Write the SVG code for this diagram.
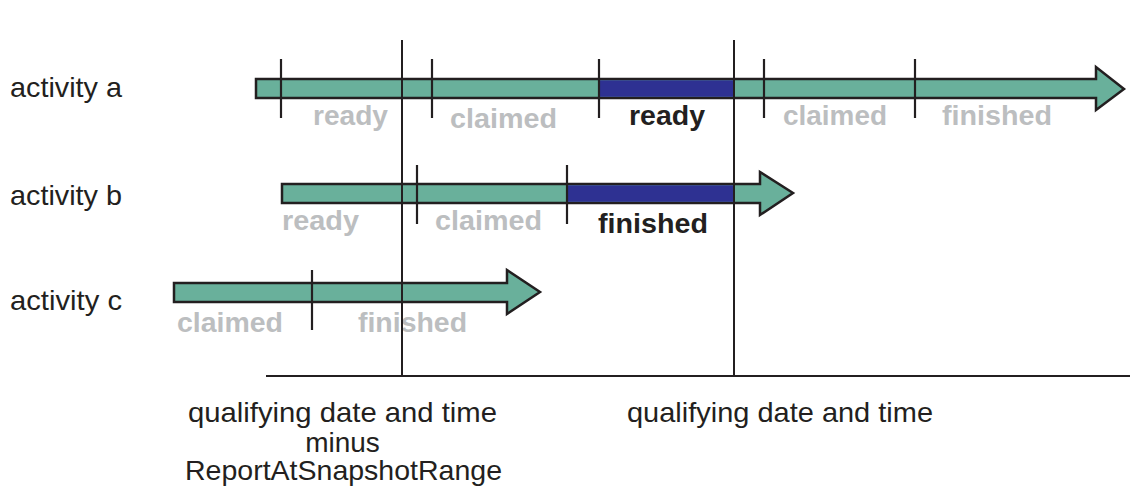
<svg xmlns="http://www.w3.org/2000/svg" width="1130" height="487" viewBox="0 0 1130 487">
<style>
.bar{fill:#69b09b;stroke:#231f20;stroke-width:2.5;stroke-linejoin:miter}
.blue{fill:#2e3192}
.tick{stroke:#231f20;stroke-width:2.2}
.axis{stroke:#231f20;stroke-width:2}
.lbl{font-family:"Liberation Sans",Arial,sans-serif;font-size:28px;fill:#231f20}
.st{font-family:"Liberation Sans",Arial,sans-serif;font-size:28px;font-weight:bold;fill:#bcbec0}
.sb{font-family:"Liberation Sans",Arial,sans-serif;font-size:28px;font-weight:bold;fill:#231f20}
</style>
<rect width="1130" height="487" fill="#fff"/>
<g id="activity-a">
  <path class="bar" d="M256,79 H1096 V67 L1124,89 L1096,110 V98 H256 Z"/>
  <rect class="blue" x="599" y="80.3" width="135" height="16.5"/>
  <line class="tick" x1="281" y1="59" x2="281" y2="118"/>
  <line class="tick" x1="432" y1="59" x2="432" y2="118"/>
  <line class="tick" x1="599" y1="59" x2="599" y2="118"/>
  <line class="tick" x1="764" y1="59" x2="764" y2="118"/>
  <line class="tick" x1="915" y1="59" x2="915" y2="118"/>
  <text class="lbl" x="10" y="97" textLength="112" lengthAdjust="spacingAndGlyphs">activity a</text>
  <text class="st" x="313" y="125" textLength="75" lengthAdjust="spacingAndGlyphs">ready</text>
  <text class="st" x="450" y="128" textLength="107" lengthAdjust="spacingAndGlyphs">claimed</text>
  <text class="sb" x="629" y="125" textLength="76" lengthAdjust="spacingAndGlyphs">ready</text>
  <text class="st" x="783" y="125" textLength="104" lengthAdjust="spacingAndGlyphs">claimed</text>
  <text class="st" x="942" y="125" textLength="110" lengthAdjust="spacingAndGlyphs">finished</text>
</g>
<g id="activity-b">
  <path class="bar" d="M282,184 H760 V172 L793,193 L760,215 V203 H282 Z"/>
  <rect class="blue" x="567" y="185.3" width="168" height="16.5"/>
  <line class="tick" x1="417" y1="165" x2="417" y2="224"/>
  <line class="tick" x1="567" y1="165" x2="567" y2="224"/>
  <text class="lbl" x="10" y="205" textLength="112" lengthAdjust="spacingAndGlyphs">activity b</text>
  <text class="st" x="282" y="230" textLength="77" lengthAdjust="spacingAndGlyphs">ready</text>
  <text class="st" x="435" y="230" textLength="107" lengthAdjust="spacingAndGlyphs">claimed</text>
  <text class="sb" x="598" y="233" textLength="110" lengthAdjust="spacingAndGlyphs">finished</text>
</g>
<g id="activity-c">
  <path class="bar" d="M174,283 H507 V270 L540,292 L507,314 V302 H174 Z"/>
  <line class="tick" x1="312" y1="270" x2="312" y2="330"/>
  <text class="lbl" x="10" y="310" textLength="112" lengthAdjust="spacingAndGlyphs">activity c</text>
  <text class="st" x="177" y="332" textLength="106" lengthAdjust="spacingAndGlyphs">claimed</text>
  <text class="st" x="358" y="332" textLength="109" lengthAdjust="spacingAndGlyphs">finished</text>
</g>
<g id="connectors">
  <line class="axis" x1="402" y1="40" x2="402" y2="377"/>
  <line class="axis" x1="734" y1="40" x2="734" y2="377"/>
  <line class="axis" x1="266" y1="376" x2="1130" y2="376"/>
</g>
<g id="time-labels">
  <text class="lbl" x="188" y="422" textLength="309" lengthAdjust="spacingAndGlyphs">qualifying date and time</text>
  <text class="lbl" x="342.5" y="452" text-anchor="middle">minus</text>
  <text class="lbl" x="185" y="480" textLength="317" lengthAdjust="spacingAndGlyphs">ReportAtSnapshotRange</text>
  <text class="lbl" x="627" y="422" textLength="306" lengthAdjust="spacingAndGlyphs">qualifying date and time</text>
</g>
</svg>
